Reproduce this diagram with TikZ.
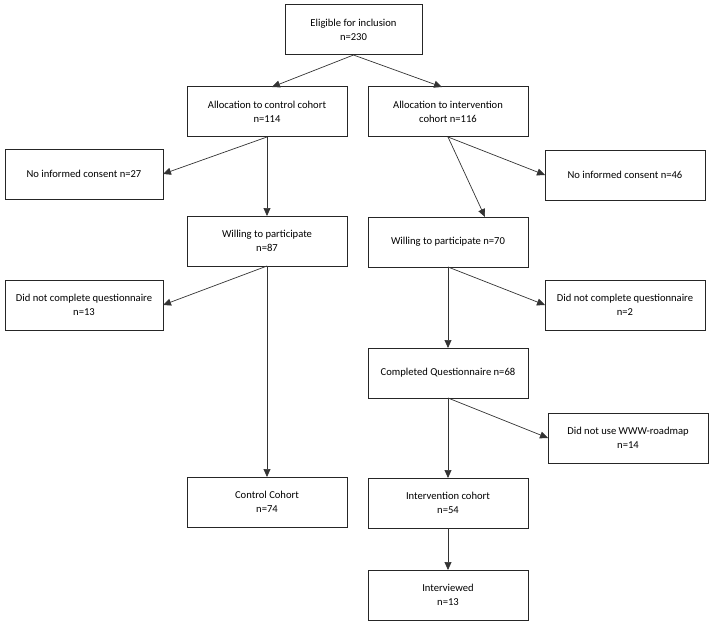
\documentclass[tikz,border=0pt]{standalone}
\usepackage{fontspec}
\setmainfont{Carlito}
\usetikzlibrary{arrows.meta,positioning}

\begin{document}
\begin{tikzpicture}[
  box/.style={rectangle, draw=black!85, line width=1pt, fill=white,
              align=center, font=\fontsize{10.6}{14}\selectfont,
              minimum width=160pt, minimum height=50pt, inner sep=2pt,
              outer sep=0pt},
  arr/.style={draw=black!80, line width=0.7pt,
              -{Triangle[length=8pt,width=7pt]}}
]
\useasboundingbox (0,0) rectangle (709pt,-623pt);
\node[box, minimum width=137pt] at (353.5pt,-30pt) (elig) {Eligible for inclusion\\n=230};
\node[box, below=32pt of elig, xshift=-86.5pt] (ctrl) {Allocation to control cohort\\n=114};
\node[box, right=21pt of ctrl]                (intv)  {Allocation to intervention\\cohort n=116};
\node[box, below left=12pt and 24pt of ctrl, minimum width=158pt]  (nocA) {No informed consent n=27};
\node[box, below right=13pt and 17pt of intv]  (nocB)  {No informed consent n=46};
\node[box, below=79pt of ctrl]                (willA) {Willing to participate\\n=87};
\node[box, below=80pt of intv]                (willB) {Willing to participate n=70};
\node[box, below left=14pt and 24pt of willA, minimum width=158pt] (dncA) {Did not complete questionnaire\\n=13};
\node[box, below right=13pt and 17pt of willB] (dncB)  {Did not complete questionnaire\\n=2};
\node[box, below=81pt of willB]               (compl) {Completed Questionnaire n=68};
\node[box, below right=15pt and 20pt of compl] (www)   {Did not use WWW-roadmap\\n=14};
\node[box, below=211pt of willA]              (ctrlco) {Control Cohort\\n=74};
\node[box, below=80pt of compl]               (intco) {Intervention cohort\\n=54};
\node[box, below=42pt of intco]               (intvw) {Interviewed\\n=13};
\draw[arr] (elig.south) -- ([xshift=5pt]ctrl.north);
\draw[arr] (elig.south) -- ([xshift=-6pt]intv.north);
\draw[arr] (ctrl.south) -- (nocA.east);
\draw[arr] (ctrl.south) -- (willA.north);
\draw[arr] (intv.south) -- (nocB.west);
\draw[arr] (intv.south) -- ([xshift=37pt]willB.north);
\draw[arr] (willA.south) -- (dncA.east);
\draw[arr] (willA.south) -- (ctrlco.north);
\draw[arr] (willB.south) -- (dncB.west);
\draw[arr] (willB.south) -- (compl.north);
\draw[arr] (compl.south) -- (www.west);
\draw[arr] (compl.south) -- (intco.north);
\draw[arr] (intco.south) -- (intvw.north);
\end{tikzpicture}
\end{document}
